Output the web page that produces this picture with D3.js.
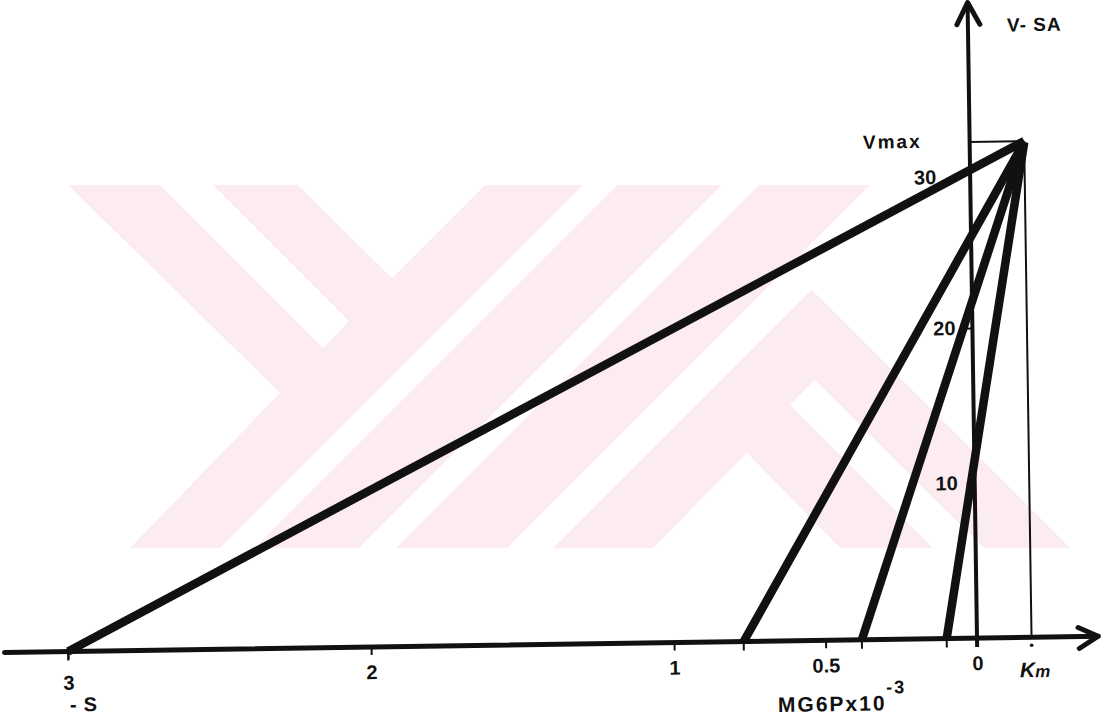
<!DOCTYPE html>
<html>
<head>
<meta charset="utf-8">
<script src="https://cdn.jsdelivr.net/npm/d3@7"></script>
<style>
  html, body { margin: 0; padding: 0; background: #fff; }
  svg { display: block; }
  text { font-family: "Liberation Sans", Arial, sans-serif; font-weight: bold; fill: #111; }
</style>
</head>
<body>
<svg id="chart" width="1109" height="719"></svg>
<script>
// Direct linear plot for MG6P: each measurement (S, v) is drawn as a line
// from (-S, 0) through (0, v); all lines meet at (Km, Vmax).
const substrate = [3.0, 0.77, 0.38, 0.10];   // MG6P x10^-3 M
const velocity  = [30.2, 25.9, 21.7, 11.4];  // specific activity
const Km = 0.18;
const Vmax = 32;
const xTickValues = [-3, -2, -1, -0.5, 0];
const yTickValues = [10, 20, 30];

const ink = "#111";
const svg = d3.select("#chart");

// ---- faint background logo ----
const logo = svg.append("g");
const pink = "#fdecef";
logo.append("path")
  .attr("d", "M68,185 L915,185 L811,289 L1070,548 L130,548 L280,393 Z")
  .attr("fill", pink);
const gaps = [
  "M160,185 L213,185 L349,321 L323,348 Z",
  "M298,185 L485,185 L392,278 Z",
  "M583,185 L617,185 L254,548 L220,548 Z",
  "M722,185 L759,185 L396,548 L359,548 Z",
  "M870,185 L916,185 L553,548 L507,548 Z",
  "M653,548 L747,453 L840,548 Z",
  "M790,405 L815,380 L984,548 L933,548 Z"
];
logo.selectAll("path.gap").data(gaps).join("path")
  .attr("class", "gap").attr("d", d => d).attr("fill", "#fff");

// ---- plot frame (origin at x = 0, v = 0) ----
const g = svg.append("g").attr("transform", "translate(977,638) rotate(-0.85)");

const x = d3.scaleLinear().domain([-3, 0]).range([-909, 0]);
const y = d3.scaleLinear().domain([0, 30]).range([0, -465]);

// x axis line with arrow
const xEnd = x(0.40);
g.append("line")
  .attr("x1", x(-3.21)).attr("x2", xEnd).attr("y1", 0).attr("y2", 0)
  .attr("stroke", ink).attr("stroke-width", 5).attr("stroke-linecap", "round");
g.append("path")
  .attr("d", `M${xEnd - 20},-9 L${xEnd},0 L${xEnd - 19},12`)
  .attr("fill", "none").attr("stroke", ink).attr("stroke-width", 5)
  .attr("stroke-linecap", "round").attr("stroke-linejoin", "round");

// y axis line with arrow
const yTop = y(41);
g.append("line")
  .attr("x1", 0).attr("x2", 0).attr("y1", 9).attr("y2", yTop)
  .attr("stroke", ink).attr("stroke-width", 4);
g.append("path")
  .attr("d", `M-11,${yTop + 22} L0,${yTop} L12,${yTop + 22}`)
  .attr("fill", "none").attr("stroke", ink).attr("stroke-width", 5)
  .attr("stroke-linecap", "round").attr("stroke-linejoin", "round");

// x ticks and labels
const xAxisG = g.append("g")
  .call(d3.axisBottom(x).tickValues(xTickValues)
    .tickFormat(d => String(Math.abs(d))).tickSize(8).tickPadding(10));
xAxisG.select(".domain").remove();
xAxisG.attr("font-size", null).attr("font-family", null);
xAxisG.selectAll(".tick line").attr("stroke", ink).attr("stroke-width", 2);
xAxisG.selectAll(".tick text").style("font-size", "20px").attr("fill", ink);
xAxisG.selectAll(".tick text").filter(d => d === -3).attr("y", 24);

// y ticks and labels
const yAxisG = g.append("g")
  .call(d3.axisLeft(y).tickValues(yTickValues).tickSize(8).tickPadding(9));
yAxisG.select(".domain").remove();
yAxisG.attr("font-size", null).attr("font-family", null);
yAxisG.selectAll(".tick line").attr("stroke", ink).attr("stroke-width", 2);
yAxisG.selectAll(".tick text").style("font-size", "20px").attr("fill", ink);
yAxisG.selectAll(".tick text").filter(d => d === 30).attr("x", -34).attr("dy", "0.5em");

// Vmax / Km guide lines
g.append("line")
  .attr("x1", 0).attr("x2", x(Km)).attr("y1", y(Vmax)).attr("y2", y(Vmax))
  .attr("stroke", ink).attr("stroke-width", 2);
g.append("line")
  .attr("x1", x(Km)).attr("x2", x(Km)).attr("y1", y(Vmax)).attr("y2", 0)
  .attr("stroke", ink).attr("stroke-width", 2);

// small marks at each -S on the x axis and the Km point
g.selectAll("line.smark").data(substrate).join("line")
  .attr("class", "smark")
  .attr("x1", d => x(-d)).attr("x2", d => x(-d)).attr("y1", 2).attr("y2", 9)
  .attr("stroke", ink).attr("stroke-width", 2);
g.append("circle").attr("cx", x(Km)).attr("cy", 8).attr("r", 1.8).attr("fill", ink);

// data lines: from (-S, 0) through (0, v), extended to x = Km
const rows = substrate.map((s, i) => ({ s, v: velocity[i] }));
g.selectAll("line.data").data(rows).join("line")
  .attr("class", "data")
  .attr("x1", d => x(-d.s)).attr("y1", 0)
  .attr("x2", x(Km)).attr("y2", d => y(d.v * (d.s + Km) / d.s))
  .attr("stroke", ink).attr("stroke-width", 8.5).attr("stroke-linecap", "butt");

// labels
g.append("text").attr("x", -48).attr("y", y(Vmax) + 5)
  .attr("text-anchor", "end").style("font-size", "19px").style("letter-spacing", "2px")
  .text("Vmax");
g.append("text").attr("x", 39).attr("y", -606)
  .style("font-size", "19px").style("letter-spacing", "1px")
  .text("V- SA");
g.append("text").attr("x", x(-3) + 1).attr("y", 60)
  .style("font-size", "20px").style("letter-spacing", "7px")
  .text("-S");
const kmLabel = g.append("text").attr("x", x(Km) + 3).attr("y", 40)
  .attr("text-anchor", "middle").style("font-style", "italic").style("font-size", "21px");
kmLabel.append("tspan").text("K");
kmLabel.append("tspan").style("font-size", "17px").text("m");
const unitLabel = g.append("text").attr("x", -200).attr("y", 71)
  .style("font-size", "21px").style("letter-spacing", "2px");
unitLabel.append("tspan").text("MG6Px10");
unitLabel.append("tspan").attr("dy", -17).style("font-size", "18px").text("-3");
</script>
</body>
</html>
